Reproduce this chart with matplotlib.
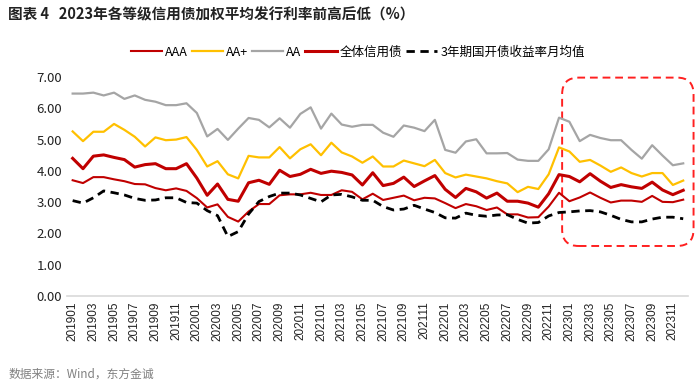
import matplotlib
matplotlib.use("Agg")
import matplotlib.pyplot as plt
from matplotlib.patches import FancyBboxPatch
import numpy as np

plt.rcParams['font.family'] = ['Noto Sans CJK SC', 'DejaVu Sans']

# months 201901 .. 202312
months = ["%d%02d" % (y, m) for y in range(2019, 2024) for m in range(1, 13)]

aaa = [3.70, 3.61, 3.80, 3.80, 3.73, 3.67, 3.58, 3.57, 3.45, 3.38, 3.44, 3.36,
       3.13, 2.83, 2.93, 2.53, 2.38, 2.70, 2.94, 2.94, 3.22, 3.25, 3.25, 3.30,
       3.23, 3.23, 3.38, 3.33, 3.09, 3.27, 3.07, 3.14, 3.21, 3.06, 3.14, 3.12,
       2.97, 2.81, 2.94, 2.87, 2.75, 2.83, 2.61, 2.61, 2.51, 2.52, 2.86, 3.30,
       3.03, 3.15, 3.31, 3.14, 2.99, 3.05, 3.05, 3.01, 3.20, 3.01, 3.00, 3.08]

aa_plus = [5.26, 4.95, 5.25, 5.25, 5.50, 5.31, 5.09, 4.78, 5.07, 4.98, 5.00, 5.08,
           4.67, 4.14, 4.31, 3.89, 3.76, 4.48, 4.43, 4.43, 4.76, 4.40, 4.69, 4.85,
           4.50, 4.90, 4.59, 4.46, 4.26, 4.46, 4.14, 4.14, 4.33, 4.24, 4.15, 4.35,
           3.93, 3.79, 3.88, 3.82, 3.76, 3.67, 3.60, 3.32, 3.49, 3.42, 3.89, 4.75,
           4.62, 4.29, 4.35, 4.17, 3.97, 4.11, 3.93, 3.82, 3.93, 3.93, 3.55, 3.69]

aa = [6.47, 6.47, 6.50, 6.41, 6.50, 6.30, 6.41, 6.27, 6.21, 6.10, 6.10, 6.16,
      5.85, 5.10, 5.34, 4.99, 5.35, 5.69, 5.63, 5.39, 5.68, 5.38, 5.82, 6.03,
      5.35, 5.83, 5.48, 5.41, 5.47, 5.47, 5.22, 5.09, 5.45, 5.38, 5.27, 5.63,
      4.67, 4.58, 4.94, 5.01, 4.56, 4.56, 4.57, 4.36, 4.32, 4.32, 4.69, 5.70,
      5.57, 4.95, 5.15, 5.05, 4.98, 4.98, 4.67, 4.39, 4.82, 4.49, 4.18, 4.24]

total = [4.40, 4.07, 4.47, 4.51, 4.43, 4.36, 4.12, 4.20, 4.23, 4.07, 4.07, 4.23,
         3.77, 3.22, 3.58, 3.09, 3.03, 3.62, 3.70, 3.57, 4.02, 3.82, 3.89, 4.05,
         3.92, 3.99, 3.95, 3.87, 3.55, 3.94, 3.53, 3.60, 3.80, 3.50, 3.68, 3.85,
         3.41, 3.15, 3.44, 3.33, 3.13, 3.29, 3.03, 3.03, 2.97, 2.84, 3.27, 3.88,
         3.82, 3.65, 3.91, 3.67, 3.47, 3.56, 3.49, 3.44, 3.64, 3.39, 3.24, 3.38]

cdb3y = [3.05, 2.97, 3.14, 3.36, 3.30, 3.23, 3.12, 3.06, 3.07, 3.14, 3.14, 2.99,
         2.97, 2.73, 2.57, 1.90, 2.06, 2.62, 3.02, 3.18, 3.29, 3.29, 3.23, 3.12,
         3.01, 3.23, 3.25, 3.17, 3.06, 3.06, 2.86, 2.75, 2.78, 2.90, 2.78, 2.67,
         2.50, 2.49, 2.65, 2.58, 2.55, 2.59, 2.60, 2.45, 2.33, 2.35, 2.56, 2.67,
         2.69, 2.72, 2.73, 2.69, 2.58, 2.45, 2.37, 2.37, 2.46, 2.52, 2.52, 2.47]

yticks = [0, 1, 2, 3, 4, 5, 6, 7]

fig = plt.figure(figsize=(7.0, 3.83), dpi=100)
ax = fig.add_axes([0.0964, 0.227, 0.887, 0.572])

x = np.arange(len(months))
ax.plot(x, aaa, color='#C00000', lw=1.5, label='AAA')
ax.plot(x, aa_plus, color='#FFC000', lw=1.6, label='AA+')
ax.plot(x, aa, color='#A5A5A5', lw=1.6, label='AA')
ax.plot(x, total, color='#C00000', lw=2.2, label='全体信用债')
ax.plot(x, cdb3y, color='black', lw=2.0, ls=(0, (3, 2)), label='3年期国开债收益率月均值')

ax.set_xlim(-0.5, len(months) - 0.5)
ax.set_ylim(0, 7)
ax.set_yticks(yticks)
ax.set_yticklabels(["%.2f" % v for v in yticks], fontsize=9.5, color='#222222')
ax.set_xticks(x[::2])
ax.set_xticklabels(months[::2], rotation=90, fontsize=8.5, family='Liberation Sans',
                   color='#222222')
ax.tick_params(axis='both', length=0, pad=4)
for s in ['top', 'right', 'left']:
    ax.spines[s].set_visible(False)
ax.spines['bottom'].set_color('#D9D9D9')
ax.spines['bottom'].set_linewidth(1.2)

# highlight box around 2023
box = FancyBboxPatch((47.3, 1.6), 12.7, 5.38,
                     boxstyle="round,pad=0,rounding_size=1.6",
                     mutation_aspect=0.33, fill=False, ec='#FF2020',
                     lw=1.4, ls=(0, (4, 2.5)), clip_on=False)
ax.add_patch(box)

fig.legend(loc='center', bbox_to_anchor=(0.511, 0.864), ncol=5, frameon=False,
           fontsize=9, handlelength=2.5, handletextpad=0.25, columnspacing=0.3)

fig.text(0.012, 0.963, "图表 4   2023年各等级信用债加权平均发行利率前高后低（%）",
         fontsize=10.5, fontweight='bold', va='center', ha='left', color='#222222')
fig.text(0.012, 0.024, "数据来源：Wind，东方金诚", fontsize=8.5, color='#808080',
         va='center', ha='left')

fig.savefig('out.png', dpi=100)
